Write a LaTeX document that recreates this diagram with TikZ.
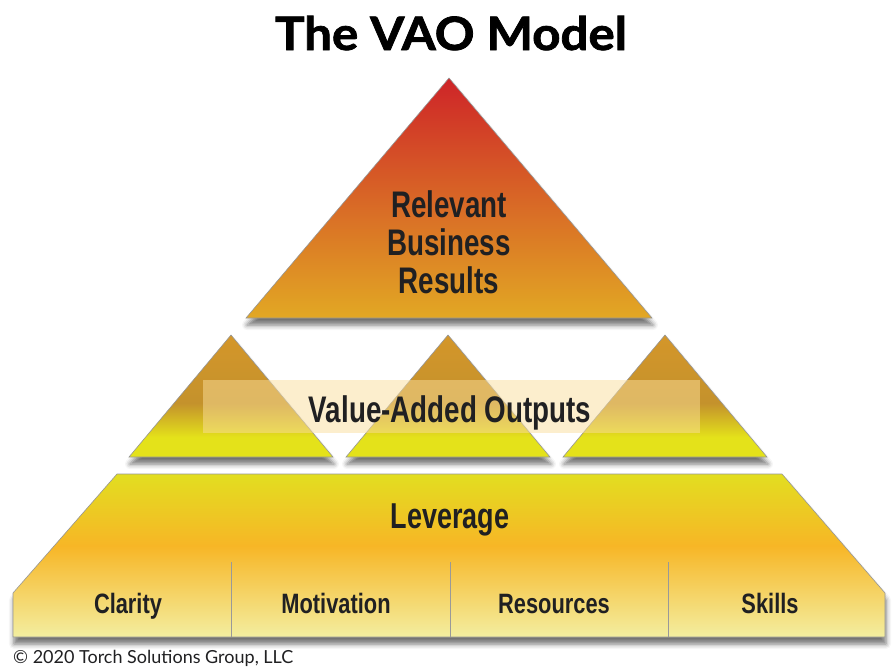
\documentclass[tikz,border=0pt]{standalone}
\usepackage{fontspec}
\setmainfont{Liberation Sans}
\newfontfamily\titlefont{Lato}[BoldFeatures={FakeBold=1.6}]
\usepackage{tikz}
\usetikzlibrary{shadows.blur}
\definecolor{PeakRed}{RGB}{206, 36, 40}
\definecolor{PeakOrange}{RGB}{218, 112, 40}
\definecolor{PeakGold}{RGB}{226, 168, 36}
\definecolor{OutputGold}{RGB}{212, 150, 42}
\definecolor{OutputBrown}{RGB}{196, 146, 44}
\definecolor{OutputYellow}{RGB}{228, 226, 26}
\definecolor{LeverYellow}{RGB}{226, 222, 32}
\definecolor{LeverOrange}{RGB}{247, 182, 38}
\definecolor{LeverPale}{RGB}{243, 238, 160}
\definecolor{BandCream}{RGB}{250, 222, 155}
\definecolor{TextGray}{RGB}{32, 32, 34}
\definecolor{EdgeGray}{RGB}{150, 150, 150}

\pgfdeclareverticalshading{outputshade}{100bp}{color(0bp)=(OutputYellow); color(25bp)=(OutputYellow); color(33bp)=(OutputYellow); color(47bp)=(OutputBrown); color(75bp)=(OutputGold); color(100bp)=(OutputGold)}
\pgfdeclareverticalshading{levershade}{100bp}{color(0bp)=(LeverPale); color(25bp)=(LeverPale); color(53bp)=(LeverOrange); color(75bp)=(LeverYellow); color(100bp)=(LeverYellow)}

\begin{document}
\begin{tikzpicture}[x=1pt, y=-1pt,
  tiershadow/.style={blur shadow={shadow xshift=1pt, shadow yshift=-7pt, shadow blur radius=5pt, shadow opacity=55}},
  tierlabel/.style={text=TextGray, inner sep=0pt, xscale=0.75},
  baselabel/.style={tierlabel, xscale=0.78/0.75, font=\bfseries\fontsize{28}{30}\selectfont, anchor=base},
  divider/.style={draw=gray!80, line width=0.8pt}]
  \useasboundingbox (0,0) rectangle (892,667);

  % Title
  \node[anchor=base, inner sep=0pt, xscale=1.07, font=\titlefont\bfseries\fontsize{46}{48}\selectfont] (title) at (451,50) {The VAO Model};

  % Top triangle
  \path[tiershadow, draw=EdgeGray, line width=0.6pt, top color=PeakRed, middle color=PeakOrange, bottom color=PeakGold]
    (449,78) -- (652,318) -- (246,318) -- cycle;
  \node[tierlabel, align=center, font=\bfseries\fontsize{37}{38}\selectfont] (results) at (449,242) {Relevant\\Business\\Results};

  % Middle row of triangles
  \foreach \cx in {231,448,665}
    \path[tiershadow, draw=EdgeGray, line width=0.6pt, shading=outputshade]
      (\cx,335) -- (\cx+102,457) -- (\cx-102,457) -- cycle;
  \fill[BandCream, opacity=0.5] (203,380) rectangle (700,433);
  \node[tierlabel, anchor=base, font=\bfseries\fontsize{37}{38}\selectfont] (outputs) at (450,422) {Value-Added Outputs};

  % Base trapezoid
  \path[tiershadow, draw=EdgeGray, line width=0.6pt, shading=levershade]
    (117,474) -- (782,474) -- (885,593) -- (885,637) -- (13,637) -- (13,593) -- cycle;
  \node[tierlabel, anchor=base, font=\bfseries\fontsize{36}{38}\selectfont] (leverage) at (450,528) {Leverage};
  \foreach \dx in {231,450,668}
    \draw[divider] (\dx,562) -- (\dx,637);
  \foreach \cx/\name/\word in {128/clarity/Clarity, 336/motivation/Motivation, 554/resources/Resources, 770/skills/Skills}
    \node[baselabel] (\name) at (\cx,613) {\word};

  % Footer
  \node[anchor=base west, inner sep=0pt, text=TextGray, font=\titlefont\fontsize{18}{20}\selectfont] (copyright) at (13,663) {© 2020 Torch Solutions Group, LLC};
\end{tikzpicture}
\end{document}
